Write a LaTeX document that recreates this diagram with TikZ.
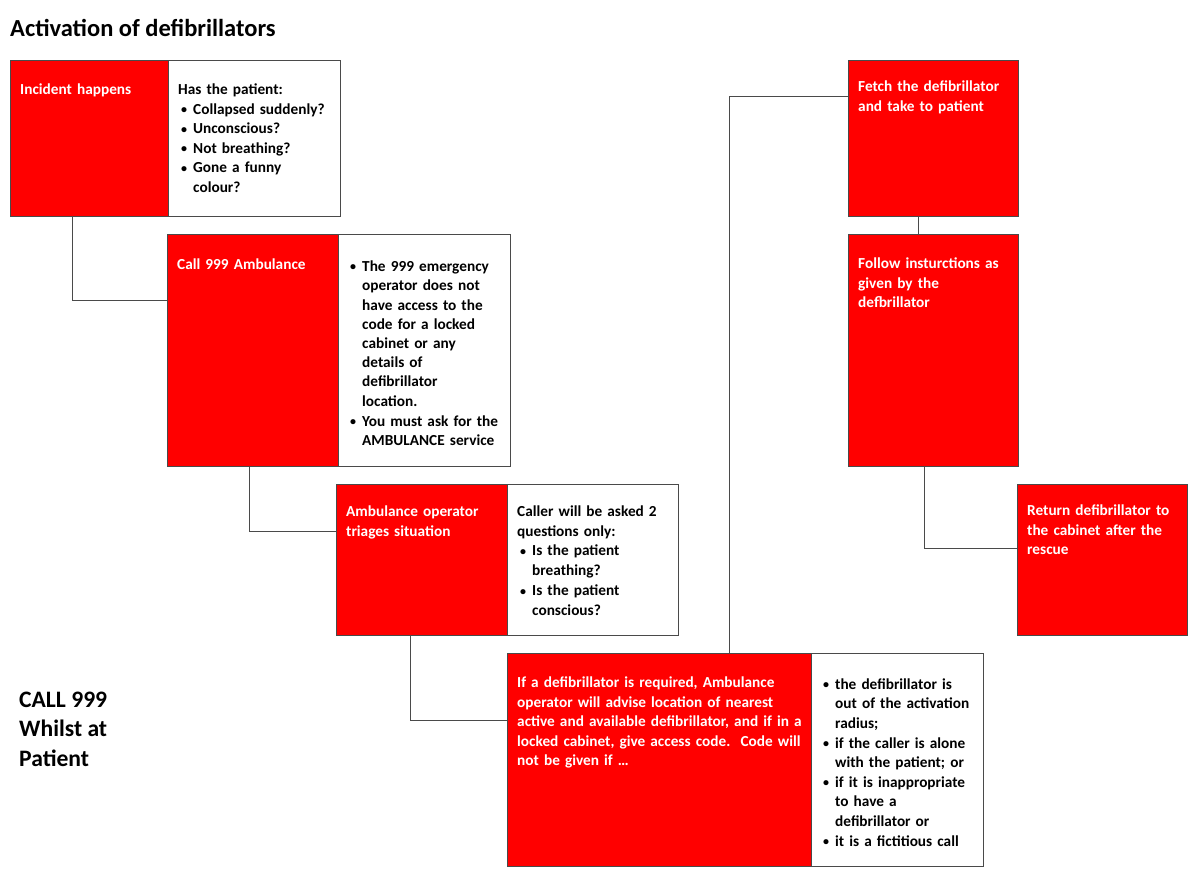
\documentclass[tikz,border=0pt]{standalone}
\usepackage{fontspec}
\setmainfont{Carlito}
\usetikzlibrary{calc}
\setlength{\parindent}{0pt}
\setlength{\parskip}{0pt}
\setlength{\lineskip}{0pt}
\definecolor{boxred}{HTML}{FF0000}
\definecolor{edgegray}{HTML}{4A4A4A}
\newcommand{\smallbul}{\raisebox{0.9pt}{\fontsize{12}{12}\selectfont\textbullet}}
\newcommand{\bul}[1]{\noindent\hspace*{3pt}\makebox[12pt][l]{\strut\smallbul}\begin{tabular}[t]{@{}l@{}}#1\end{tabular}\par}
\tikzset{
  redbox/.style={draw=edgegray, fill=boxred, line width=0.8pt, anchor=north west, inner sep=0pt, outer sep=0pt},
  whitebox/.style={draw=edgegray, fill=white, line width=0.8pt, anchor=north west, inner sep=0pt, outer sep=0pt},
  boxtext/.style={anchor=north west, inner sep=0pt, align=left, text width=#1, font=\bfseries\fontsize{15.3}{19.5}\selectfont},
  tighttext/.style={font=\bfseries\fontsize{15.3}{19.2}\selectfont},
  rtext/.style={boxtext=#1, text=white},
  wtext/.style={boxtext=#1, text=black},
  conn/.style={draw=edgegray, line width=0.8pt},
}
\begin{document}
\begin{tikzpicture}[x=1pt,y=-1pt]
\useasboundingbox[fill=white] (0,0) rectangle (1200,888);

\node[anchor=base west, inner sep=0pt, font=\bfseries\fontsize{24.5}{29}\selectfont] (title) at (10,37) {Activation of defibrillators};

% Box 1
\node[redbox, minimum width=158pt, minimum height=156pt] (b1r) at (10,60) {};
\node[whitebox, minimum width=172pt, minimum height=156pt] (b1w) at (b1r.north east) {};
\node[rtext=150pt] (t1r) at ($(b1r.north west)+(10,24)$) {Incident happens};
\node[wtext=165pt] (t1w) at ($(b1w.north west)+(10,24)$) {Has the patient:\par
\bul{Collapsed suddenly?}
\bul{Unconscious?}
\bul{Not breathing?}
\bul{Gone a funny\\colour?}};

% Box 2
\node[redbox, minimum width=171pt, minimum height=232pt] (b2r) at (167,234) {};
\node[whitebox, minimum width=172pt, minimum height=232pt] (b2w) at (b2r.north east) {};
\node[rtext=160pt] (t2r) at ($(b2r.north west)+(10,25)$) {Call 999 Ambulance};
\node[wtext=165pt, tighttext] (t2w) at ($(b2w.north west)+(9,24)$) {\bul{The 999 emergency\\operator does not\\have access to the\\code for a locked\\cabinet or any\\details of\\defibrillator\\location.}
\bul{You must ask for the\\AMBULANCE service}};

% Box 3
\node[redbox, minimum width=171pt, minimum height=151pt] (b3r) at (336,484) {};
\node[whitebox, minimum width=171pt, minimum height=151pt] (b3w) at (b3r.north east) {};
\node[rtext=160pt] (t3r) at ($(b3r.north west)+(10,22)$) {Ambulance operator\\triages situation};
\node[wtext=165pt] (t3w) at ($(b3w.north west)+(10,22)$) {Caller will be asked 2\\questions only:\par
\bul{Is the patient\\breathing?}
\bul{Is the patient\\conscious?}};

% Box 4
\node[redbox, minimum width=304pt, minimum height=213pt] (b4r) at (507,653) {};
\node[whitebox, minimum width=172pt, minimum height=213pt] (b4w) at (b4r.north east) {};
\node[rtext=300pt] (t4r) at ($(b4r.north west)+(10,24)$) {If a defibrillator is required, Ambulance\\operator will advise location of nearest\\active and available defibrillator, and if in a\\locked cabinet, give access code.\ \ Code will\\not be given if \ldots};
\node[wtext=170pt, tighttext] (t4w) at ($(b4w.north west)+(9,23)$) {\bul{the defibrillator is\\out of the activation\\radius;}
\bul{if the caller is alone\\with the patient; or}
\bul{if it is inappropriate\\to have a\\defibrillator or}
\bul{it is a fictitious call}};

% Right column
\node[redbox, minimum width=170pt, minimum height=156pt] (fr) at (848,60) {};
\node[rtext=160pt] (tfr) at ($(fr.north west)+(10,21)$) {Fetch the defibrillator\\and take to patient};
\node[redbox, minimum width=170pt, minimum height=232pt] (fo) at (848,234) {};
\node[rtext=160pt] (tfo) at ($(fo.north west)+(10,24)$) {Follow insturctions as\\given by the\\defbrillator};
\node[redbox, minimum width=170pt, minimum height=151pt] (rt) at (1017,484) {};
\node[rtext=160pt] (trt) at ($(rt.north west)+(10,21)$) {Return defibrillator to\\the cabinet after the\\rescue};

% Side label
\node[anchor=base west, inner sep=0pt, align=left, font=\bfseries\fontsize{23.6}{29.5}\selectfont] (call) at (19,766) {CALL 999\\Whilst at\\Patient};

% Connectors
\draw[conn] ($(b1r.south west)+(62,0)$) |- ($(b2r.north west)+(0,66)$);
\draw[conn] ($(b2r.south west)+(82,0)$) |- ($(b3r.north west)+(0,47)$);
\draw[conn] ($(b3r.south west)+(74,0)$) |- ($(b4r.north west)+(0,67)$);
\draw[conn] ($(b4r.north west)+(222,0)$) |- ($(fr.north west)+(0,36)$);
\draw[conn] ($(fr.south west)+(70,0)$) -- ($(fo.north west)+(70,0)$);
\draw[conn] ($(fo.south west)+(76,0)$) |- ($(rt.north west)+(0,64)$);
\end{tikzpicture}
\end{document}
